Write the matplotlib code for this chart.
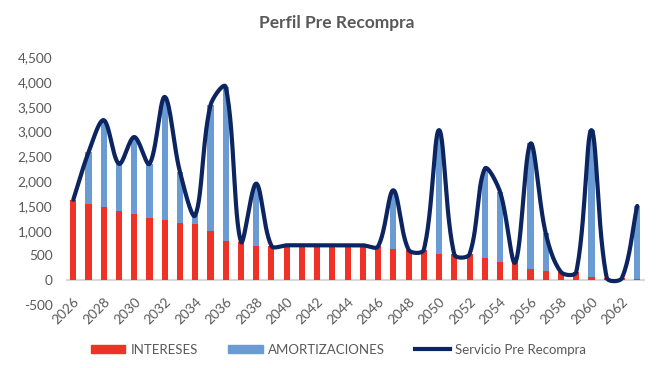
import numpy as np
import matplotlib
matplotlib.use("Agg")
import matplotlib.pyplot as plt
from matplotlib.patches import Patch
from matplotlib.lines import Line2D
from matplotlib.ticker import FuncFormatter

# ---------------- data ----------------
years = list(range(2026, 2064))
intereses = [1625, 1545, 1475, 1390, 1340, 1255, 1210, 1165, 1145, 985,
             785, 780, 690, 695, 705, 705, 705, 705, 705, 705,
             685, 640, 615, 615, 535, 520, 525, 450, 370, 360,
             235, 190, 165, 165, 60, 50, 45, 15]
amortizaciones = [0, 1035, 1755, 960, 1550, 1095, 2490, 1020, 165, 2545,
                  3115, 0, 1260, 0, 0, 0, 0, 0, 0, 0,
                  0, 1175, 0, 0, 2495, 0, 0, 1800, 1415, 0,
                  2525, 755, 0, 0, 2970, 0, 0, 1485]
servicio = [i + a for i, a in zip(intereses, amortizaciones)]
tick_years = [str(y) for y in range(2026, 2063, 2)]
yticks = list(range(-500, 5000, 500))

RED = "#EE3326"
BLUE = "#6A9BD2"
NAVY = "#0C2460"
GRAY = "#595959"

plt.rcParams["font.family"] = ["Lato", "DejaVu Sans"]

fig = plt.figure(figsize=(6.6, 3.68), dpi=100)
ax = fig.add_axes([0.0995, 0.1712, 0.8775, 0.6731])

x = np.arange(len(years))
ax.bar(x, intereses, width=0.4, color=RED, zorder=2)
ax.bar(x, amortizaciones, width=0.4, bottom=intereses, color=BLUE, zorder=2)

ax.set_xlim(-0.5, len(years) - 0.5)
ax.set_ylim(-500, 4500)
ax.axhline(0, color="#D9D9D9", lw=1.6, zorder=1)

# Excel-like smoothed line (Bezier with chord-length-scaled tangents, screen space)
bbox = ax.get_window_extent()
sx = bbox.width / (len(years))
sy = bbox.height / 5000.0
P = np.column_stack([x * sx, np.array(servicio, float) * sy])
n = len(P)
pts = []
for k in range(n - 1):
    p0 = P[k - 1] if k > 0 else P[k]
    p1 = P[k]
    p2 = P[k + 1]
    p3 = P[k + 2] if k + 2 < n else P[k + 1]
    d01 = np.linalg.norm(p1 - p0)
    d12 = np.linalg.norm(p2 - p1)
    d23 = np.linalg.norm(p3 - p2)
    f1 = d12 / (d01 + d12) / 1.5 if (d01 + d12) > 0 else 0
    f2 = d12 / (d12 + d23) / 1.5 if (d12 + d23) > 0 else 0
    c1 = p1 + (p2 - p0) * f1 / 2
    c2 = p2 - (p3 - p1) * f2 / 2
    t = np.linspace(0, 1, 30)[:, None]
    seg = ((1 - t) ** 3) * p1 + 3 * ((1 - t) ** 2) * t * c1 + 3 * (1 - t) * t ** 2 * c2 + t ** 3 * p2
    pts.append(seg if k == 0 else seg[1:])
curve = np.vstack(pts)
ax.plot(curve[:, 0] / sx, curve[:, 1] / sy, color=NAVY, lw=3.0, zorder=3,
        solid_capstyle="round", solid_joinstyle="round")

# axes styling
for s in ax.spines.values():
    s.set_visible(False)
ax.set_yticks(yticks)
ax.yaxis.set_major_formatter(FuncFormatter(lambda v, p: f"{int(v):,}"))
ax.tick_params(axis="y", length=0, pad=9.5, labelsize=9.8, labelcolor=GRAY)
ax.set_xticks(x[::2])
ax.set_xticklabels(tick_years, rotation=45, ha="right", rotation_mode="anchor")
ax.tick_params(axis="x", length=0, pad=-7, labelsize=9.8, labelcolor=GRAY)

fig.text(0.51, 0.937, "Perfil Pre Recompra", ha="center", va="center",
         fontsize=12.5, fontweight="bold", color=GRAY)

handles = [Patch(color=RED), Patch(color=BLUE), Line2D([], [], color=NAVY, lw=3)]
labels = ["INTERESES", "AMORTIZACIONES", "Servicio Pre Recompra"]
leg = fig.legend(handles, labels, loc="center", bbox_to_anchor=(0.513, 0.05), ncol=3,
                 frameon=False, fontsize=9.5, handlelength=2.6, handleheight=0.6,
                 handletextpad=0.4, columnspacing=2.3, labelcolor=GRAY)

fig.savefig("out.png", dpi=100)
